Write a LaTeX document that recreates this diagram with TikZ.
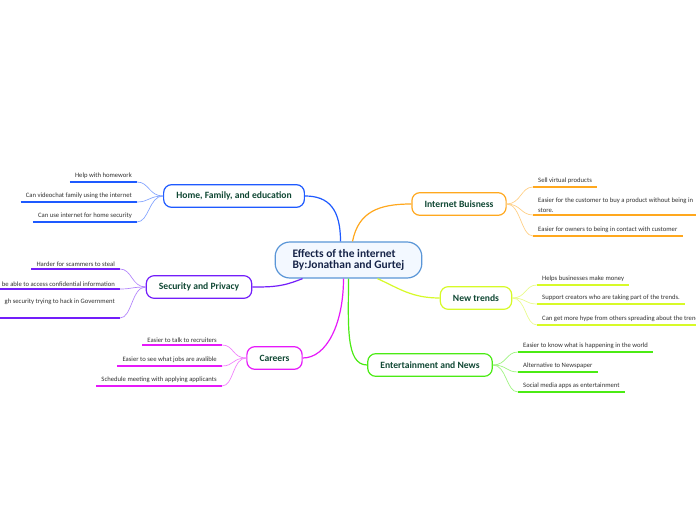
\documentclass[tikz,border=0pt]{standalone}
\usepackage{fontspec}
\setmainfont{Carlito}
\usetikzlibrary{positioning, calc}

\definecolor{rootline}{RGB}{90,150,215}
\definecolor{rootfill}{RGB}{243,248,255}
\definecolor{roottext}{RGB}{22,36,72}
\definecolor{topictext}{RGB}{16,72,52}
\definecolor{leaftext}{RGB}{50,50,50}
\definecolor{homeblue}{RGB}{30,90,255}
\definecolor{secpurple}{RGB}{115,30,250}
\definecolor{carmagenta}{RGB}{230,25,250}
\definecolor{bizorange}{RGB}{255,168,30}
\definecolor{trendyellow}{RGB}{215,250,40}
\definecolor{entgreen}{RGB}{75,235,20}

\begin{document}
\begin{tikzpicture}[
  x=0.75pt, y=-0.75pt,
  root/.style={draw=rootline, fill=rootfill, line width=0.9pt, rounded corners=11pt,
               minimum width=110pt, minimum height=27pt, align=left,
               font=\fontsize{8.6}{8.6}\selectfont\bfseries, text=roottext},
  topic/.style={draw=#1, fill=white, line width=0.9pt, rounded corners=6pt,
                minimum height=17pt, inner xsep=9.5pt,
                font=\fontsize{7.2}{8}\selectfont\bfseries, text=topictext},
  leaf/.style={inner xsep=3.7pt, inner ysep=2pt, align=left,
               font=\fontsize{5}{7.4}\selectfont, text=leaftext},
  branch/.style={line width=0.9pt, draw=#1},
  twig/.style={line width=0.5pt, draw=#1!55!white},
  uline/.style={line width=1.1pt, draw=#1},
]
  % --- canvas ---
  \path[use as bounding box, fill=white] (0,0) rectangle (696,520);
  \clip (0,0) rectangle (696,520);

  % --- root ---
  \node[root] (root) at (348.5,260) {Effects of the internet\\By:Jonathan and Gurtej};

  % --- topics ---
  \node[topic=homeblue]    (home)    at (234,196) {Home, Family, and education};
  \node[topic=secpurple]   (sec)     at (199,287) {Security and Privacy};
  \node[topic=carmagenta]  (careers) at (274.5,358) {Careers};
  \node[topic=bizorange]   (biz)     at (459,204) {Internet Buisness};
  \node[topic=trendyellow] (trends)  at (476,298) {New trends};
  \node[topic=entgreen]    (ent)     at (430,365) {Entertainment and News};

  % --- root to topics ---
  \draw[branch=homeblue]    ($(root.north)+(-8,0)$) .. controls +(0,-32) and +(24,0) .. (home.east);
  \draw[branch=bizorange]   ($(root.north)+(4,0)$) .. controls +(6,-30) and +(-32,0) .. (biz.west);
  \draw[branch=secpurple]   ($(root.south west)+(28,0)$) .. controls +(-20,8) and +(22,0) .. (sec.east);
  \draw[branch=carmagenta]  ($(root.south)+(-5,0)$) .. controls +(0,45) and +(24,0) .. (careers.east);
  \draw[branch=entgreen]    (root.south) .. controls +(0,45) and +(-22,0) .. (ent.west);
  \draw[branch=trendyellow] ($(root.south east)+(-45,0)$) .. controls +(22,10) and +(-28,0) .. (trends.west);

  % --- home, family, education ---
  \node[leaf, anchor=south east] (home1) at (137,182) {Help with homework};
  \node[leaf, anchor=south east] (home2) at (137,202) {Can videochat family using the internet};
  \node[leaf, anchor=south east] (home3) at (137,222) {Can use internet for home security};
  \foreach \n in {home1,home2,home3}{
    \draw[uline=homeblue] (\n.south west) -- (\n.south east);
    \draw[twig=homeblue] (home.west) .. controls +(-14,0) and +(12,0) .. (\n.south east);
  }

  % --- security and privacy ---
  \node[leaf, anchor=south east] (sec1) at (120,269) {Harder for scammers to steal};
  \node[leaf, anchor=south east] (sec2) at (120,289) {be able to access confidential information};
  \node[leaf, anchor=south east, text depth=9pt] (sec3) at (120,318) {gh security trying to hack in Government};
  \foreach \n in {sec1,sec2,sec3}{
    \draw[uline=secpurple] (\n.south west) -- (\n.south east);
    \draw[twig=secpurple] (sec.west) .. controls +(-14,0) and +(12,0) .. (\n.south east);
  }

  % --- careers ---
  \node[leaf, anchor=south east] (car1) at (222,345) {Easier to talk to recruiters};
  \node[leaf, anchor=south east] (car2) at (222,366) {Easier to see what jobs are avalible};
  \node[leaf, anchor=south east] (car3) at (222,386) {Schedule meeting with applying applicants};
  \foreach \n in {car1,car2,car3}{
    \draw[uline=carmagenta] (\n.south west) -- (\n.south east);
    \draw[twig=carmagenta] (careers.west) .. controls +(-14,0) and +(12,0) .. (\n.south east);
  }

  % --- internet business ---
  \node[leaf, anchor=south west] (biz1) at (533,187) {Sell virtual products};
  \node[leaf, anchor=south west] (biz2) at (533,215) {Easier for the customer to buy a product without being in\\store.};
  \node[leaf, anchor=south west] (biz3) at (533,236) {Easier for owners to being in contact with customer};
  \foreach \n in {biz1,biz2,biz3}{
    \draw[uline=bizorange] (\n.south west) -- (\n.south east);
    \draw[twig=bizorange] (biz.east) .. controls +(14,0) and +(-12,0) .. (\n.south west);
  }

  % --- new trends ---
  \node[leaf, anchor=south west] (tr1) at (537,285) {Helps businesses make money};
  \node[leaf, anchor=south west] (tr2) at (537,304) {Support creators who are taking part of the trends.};
  \node[leaf, anchor=south west] (tr3) at (537,325) {Can get more hype from others spreading about the trends};
  \foreach \n in {tr1,tr2,tr3}{
    \draw[uline=trendyellow] (\n.south west) -- (\n.south east);
    \draw[twig=trendyellow] (trends.east) .. controls +(14,0) and +(-12,0) .. (\n.south west);
  }

  % --- entertainment and news ---
  \node[leaf, anchor=south west] (ent1) at (518,352) {Easier to know what is happening in the world};
  \node[leaf, anchor=south west] (ent2) at (518,372) {Alternative to Newspaper};
  \node[leaf, anchor=south west] (ent3) at (518,392) {Social media apps as entertainment};
  \foreach \n in {ent1,ent2,ent3}{
    \draw[uline=entgreen] (\n.south west) -- (\n.south east);
    \draw[twig=entgreen] (ent.east) .. controls +(14,0) and +(-12,0) .. (\n.south west);
  }
\end{tikzpicture}
\end{document}
